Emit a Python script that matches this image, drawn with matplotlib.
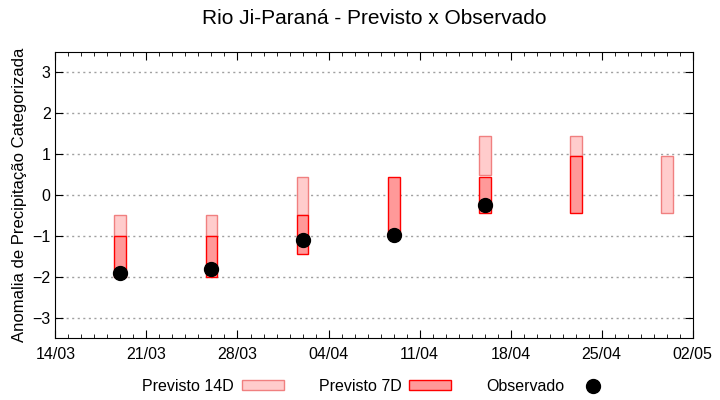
import numpy as np
import pandas as pd
import matplotlib
matplotlib.use("Agg")
import matplotlib.pyplot as plt
import matplotlib.dates as mdates
from matplotlib.patches import Patch
from matplotlib.lines import Line2D

plt.rcParams['font.family'] = ['Liberation Sans', 'DejaVu Sans']

# weekly forecast dates
datas = pd.to_datetime(["2024-03-19", "2024-03-26", "2024-04-02", "2024-04-09",
                        "2024-04-16", "2024-04-23", "2024-04-30"])

# forecast ranges (low, high); nan = not shown
prev14_min = [-1.0, -1.0, -0.5, np.nan, 0.5, 0.95, -0.45]
prev14_max = [-0.5, -0.5, 0.45, np.nan, 1.45, 1.45, 0.95]
prev7_min = [-2.0, -2.0, -1.45, -1.0, -0.45, -0.45, np.nan]
prev7_max = [-1.0, -1.0, -0.5, 0.45, 0.45, 0.95, np.nan]
observado = [-1.9, -1.8, -1.1, -0.97, -0.25, np.nan, np.nan]

x_ini = pd.Timestamp("2024-03-14")
x_fim = pd.Timestamp("2024-05-02")

fig = plt.figure(figsize=(7.2, 4.0), dpi=100)
ax = fig.add_axes([0.077, 0.154, 0.885, 0.717])

p14_min = np.array(prev14_min)
p14_max = np.array(prev14_max)
p7_min = np.array(prev7_min)
p7_max = np.array(prev7_max)

ax.bar(datas, p14_max - p14_min, bottom=p14_min, width=0.92,
       color="#ffcccc", edgecolor="#f08080", linewidth=1.0, zorder=2)
ax.bar(datas, p7_max - p7_min, bottom=p7_min, width=0.92,
       color="#ff9999", edgecolor="#ff0000", linewidth=1.0, zorder=3)
ax.plot(datas, observado, "o", color="black", markersize=10, zorder=4, linestyle="none")

ax.set_xlim(x_ini, x_fim)
ax.set_ylim(-3.5, 3.5)
ax.set_yticks(range(-3, 4))
ax.set_xticks(pd.date_range(x_ini, x_fim, freq="7D"))
ax.xaxis.set_minor_locator(mdates.DayLocator())
ax.xaxis.set_major_formatter(mdates.DateFormatter("%d/%m"))

ax.tick_params(which="both", direction="in", top=True, right=True, labelsize=11.5)
ax.tick_params(which="major", length=6)
ax.tick_params(which="minor", length=3)
ax.tick_params(axis="x", pad=6)
ax.grid(axis="y", linestyle=(0, (1.5, 2.5)), color="#a0a0a0", linewidth=1.0)
ax.set_axisbelow(True)

ax.set_ylabel("Anomalia de Precipitação Categorizada", fontsize=12)
ax.set_title("Rio Ji-Paraná - Previsto x Observado", fontsize=15, pad=20)

handles = [Patch(facecolor="#ffcccc", edgecolor="#f08080"),
           Patch(facecolor="#ff9999", edgecolor="#ff0000"),
           Line2D([], [], marker="o", color="black", linestyle="none", markersize=10)]
labels = ["Previsto 14D", "Previsto 7D", "Observado"]
fig.legend(handles, labels, loc="lower center", bbox_to_anchor=(0.525, -0.02), ncol=3,
           frameon=False, markerfirst=False, fontsize=11.5, handlelength=2.6,
           handleheight=0.5, columnspacing=2.2, handletextpad=0.5)

fig.savefig("out.png", dpi=100)
